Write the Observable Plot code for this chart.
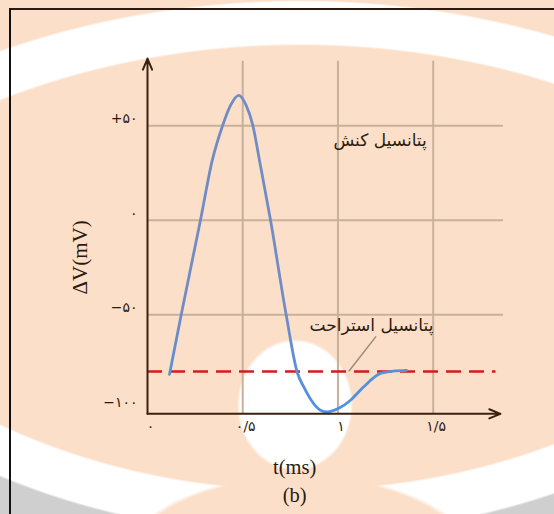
<!DOCTYPE html>
<html>
<head>
<meta charset="utf-8">
<script src="https://cdn.jsdelivr.net/npm/d3@7"></script>
<script src="https://cdn.jsdelivr.net/npm/@observablehq/plot@0.6"></script>
<style>
  html, body { margin: 0; padding: 0; background: #fff; }
  #wrap {
    position: relative; width: 554px; height: 514px; overflow: hidden;
    background:
      radial-gradient(ellipse 58px 66px at 295px 405px, #fff 95%, rgba(255,255,255,0) 100%),
      radial-gradient(ellipse 175px 85px at 300px 560px, #fcdfc9 96%, rgba(252,223,201,0) 100%),
      radial-gradient(ellipse 701px 520px at 300px 520px, rgba(255,255,255,0) 91.2%, #fff 91.6%, #fff 99.6%, rgba(255,255,255,0) 100%),
      radial-gradient(ellipse 659px 536px at 300px 0px, rgba(255,255,255,0) 91.2%, #fff 91.6%, #fff 99.6%, #cfcfcf 100%),
      #fcdfc9;
  }
  #frame {
    position: absolute; left: 9px; top: 8px; width: 600px; height: 600px;
    border-left: 2px solid #111; border-top: 2px solid #2a1a10;
  }
  #chart { position: absolute; left: 0; top: 0; }
</style>
</head>
<body>
<div id="wrap"><div id="frame"></div><div id="chart"></div></div>
<script>
// ---- data ----
const timeMs = [0.1155, 0.177, 0.278, 0.340, 0.395, 0.436, 0.479, 0.518, 0.553, 0.588, 0.646, 0.728, 0.786, 0.8205, 0.908, 0.943, 1.004, 1.066, 1.134, 1.223, 1.29, 1.36];
const voltage = [-81.5, -50, 0, 31.7, 50.3, 60.8, 66.1, 60.8, 50.3, 31.7, 0, -50, -80.4, -88.2, -100.5, -101.4, -99.5, -95.2, -88.2, -81, -79.8, -79.4];
const restingPotential = -80;

const xTicks = [0, 0.5, 1, 1.5];
const xTickLabels = ["۰", "۰/۵", "۱", "۱/۵"];
const yTicks = [50, 0, -50, -100];
const yTickLabels = ["+۵۰", "۰", "−۵۰", "−۱۰۰"];
const gridX = [0.5, 1, 1.5];
const gridY = [50, 0, -50];

const labelTexts = ["پتانسیل کنش", "پتانسیل استراحت"];
const labelT = [1.221, 1.176];
const labelV = [42.3, -55.6];
const leader = {x1: 1.2, y1: -61.4, x2: 1.057, y2: -79.9};

// ---- layout ----
const axisV = -102.4;   // where the time axis sits
const axisTop = 85.6;   // top of the voltage arrow
const gridTop = 84.1;
const gridRight = 1.869;
const axisRight = 1.853;
const dashRight = 1.83;

const curve = timeMs.map((t, i) => ({t, v: voltage[i]}));
const yLab = yTicks.map((v, i) => ({v, s: yTickLabels[i]}));
const xLab = xTicks.map((t, i) => ({t, s: xTickLabels[i]}));
const labels = labelTexts.map((s, i) => ({s, t: labelT[i], v: labelV[i]}));

const ink = "#2b1a10";
const persian = "DejaVu Sans, Noto Sans, sans-serif";
const serif = "Liberation Serif, DejaVu Serif, serif";

const chart = Plot.plot({
  width: 554,
  height: 514,
  style: {background: "transparent", overflow: "visible"},
  x: {domain: [0, 1.5], range: [147, 432.7], axis: null},
  y: {domain: [-50, 50], range: [314.3, 125.3], axis: null},
  marks: [
    Plot.ruleY(gridY, {x1: 0, x2: gridRight, stroke: "#c8b19b", strokeWidth: 2}),
    Plot.ruleX(gridX, {y1: axisV, y2: gridTop, stroke: "#c8b19b", strokeWidth: 2}),
    Plot.ruleY([restingPotential], {x1: 0, x2: dashRight, stroke: "#d21d1d", strokeWidth: 2.4, strokeDasharray: "15,8"}),
    Plot.link([leader], {x1: "x1", y1: "y1", x2: "x2", y2: "y2", stroke: "#9c8c7c", strokeWidth: 1.5}),
    Plot.line(curve, {x: "t", y: "v", curve: "monotone-x", stroke: "url(#apGrad)", strokeWidth: 2.8}),
    Plot.arrow([{x1: 0, y1: axisV, x2: 0, y2: axisTop}], {x1: "x1", y1: "y1", x2: "x2", y2: "y2", stroke: "#3a2212", strokeWidth: 2, headLength: 9, headAngle: 45}),
    Plot.arrow([{x1: 0, y1: axisV, x2: axisRight, y2: axisV}], {x1: "x1", y1: "y1", x2: "x2", y2: "y2", stroke: "#3a2212", strokeWidth: 2, headLength: 9, headAngle: 45}),
    Plot.text(yLab, {x: 0, y: "v", text: "s", textAnchor: "end", dx: -10, dy: -7, fontSize: 14, fill: ink, fontFamily: persian, ariaLabel: "ytick"}),
    Plot.text(xLab, {x: "t", y: axisV, text: "s", dx: 3, dy: 13, fontSize: 14, fill: ink, fontFamily: persian, ariaLabel: "xtick"}),
    Plot.text(labels, {x: "t", y: "v", text: "s", fontSize: 17, fill: ink, fontFamily: persian}),
    Plot.text(["ΔV(mV)"], {x: -0.354, y: -19.6, rotate: -90, fontSize: 21, fill: ink, fontFamily: serif}),
    Plot.text(["t(ms)"], {x: 0.773, y: -130.5, fontSize: 20.5, fill: ink, fontFamily: serif}),
    Plot.text(["(b)"], {x: 0.773, y: -145.5, fontSize: 20.5, fill: ink, fontFamily: serif})
  ]
});

// wider digit spacing like the reference typeface
d3.select(chart).selectAll('g[aria-label="ytick"] text, g[aria-label="xtick"] text').style("letter-spacing", "3px");

// gradient for the action-potential trace
const ns = "http://www.w3.org/2000/svg";
const defs = document.createElementNS(ns, "defs");
const grad = document.createElementNS(ns, "linearGradient");
grad.setAttribute("id", "apGrad");
grad.setAttribute("gradientUnits", "userSpaceOnUse");
grad.setAttribute("x1", "0"); grad.setAttribute("y1", "320");
grad.setAttribute("x2", "0"); grad.setAttribute("y2", "410");
[["0", "#6f8cc4"], ["1", "#4b93e6"]].forEach(([o, c]) => {
  const s = document.createElementNS(ns, "stop");
  s.setAttribute("offset", o); s.setAttribute("stop-color", c);
  grad.appendChild(s);
});
defs.appendChild(grad);
chart.insertBefore(defs, chart.firstChild);

document.getElementById("chart").appendChild(chart);
</script>
</body>
</html>
